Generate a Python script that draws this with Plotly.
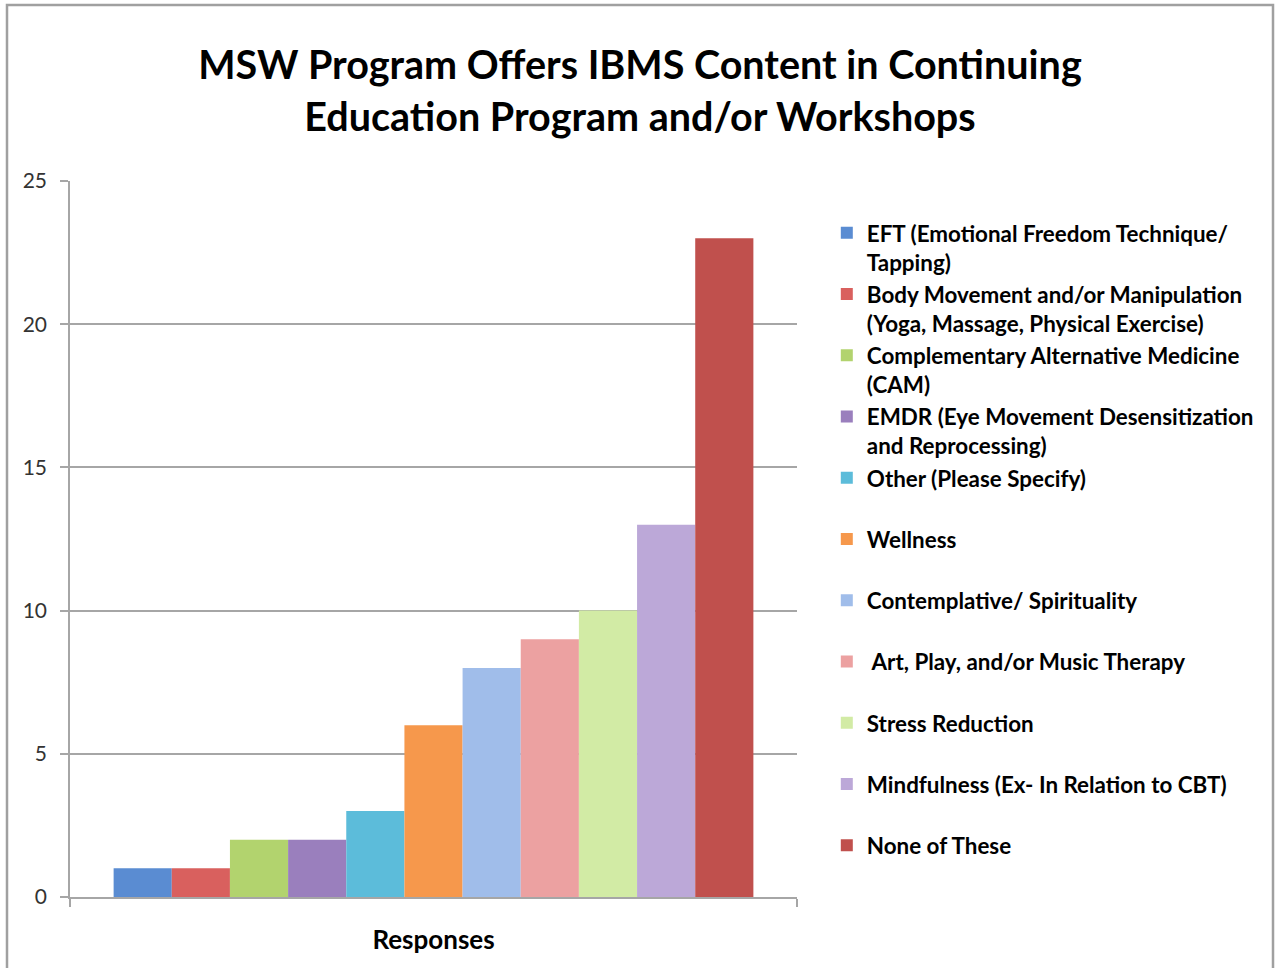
import plotly.graph_objects as go

categories = ["Responses"]
series_names = [
    "EFT (Emotional Freedom Technique/<br>Tapping)",
    "Body Movement and/or Manipulation<br>(Yoga, Massage, Physical Exercise)",
    "Complementary Alternative Medicine<br>(CAM)",
    "EMDR (Eye Movement Desensitization<br>and Reprocessing)",
    "Other (Please Specify)<br> ",
    "Wellness<br> ",
    "Contemplative/ Spirituality<br> ",
    " Art, Play, and/or Music Therapy<br> ",
    "Stress Reduction<br> ",
    "Mindfulness (Ex- In Relation to CBT)<br> ",
    "None of These<br> ",
]
series_values = [1, 1, 2, 2, 3, 6, 8, 9, 10, 13, 23]
colors = ["#5a8cd2", "#d9605e", "#b2d36e", "#9a7fbd", "#5cbcda", "#f6984c",
          "#a0bdea", "#eca1a1", "#d2eba5", "#bca8d8", "#c0504d"]
y_ticks = [0, 5, 10, 15, 20, 25]

fig = go.Figure()
for name, val, col in zip(series_names, series_values, colors):
    fig.add_trace(go.Bar(x=categories, y=[val], name=name,
                         marker=dict(color=col, line=dict(width=0))))

fig.update_layout(
    width=1280, height=968,
    margin=dict(l=70, r=483, t=181, b=71),
    paper_bgcolor="white", plot_bgcolor="white",
    barmode="group", bargap=0.12, bargroupgap=0,
    font=dict(family="Lato", color="#000000"),
    title=dict(text="MSW Program Offers IBMS Content in Continuing<br>Education Program and/or Workshops",
               x=0.5, xanchor="center", y=0.918, yanchor="middle",
               font=dict(family="Lato", size=39.5, weight="bold", color="#000000")),
    legend=dict(x=1.041, xanchor="left", y=0.957, yanchor="top",
                valign="top", traceorder="normal", itemwidth=30,
                font=dict(family="Lato", size=22.4, weight="bold", color="#000000"),
                bgcolor="rgba(0,0,0,0)"),
    showlegend=True,
)
fig.update_yaxes(range=[0, 25], tickvals=y_ticks, showgrid=True,
                 gridcolor="#a6a6a6", gridwidth=1.5,
                 showline=True, linecolor="#a6a6a6", linewidth=1.5,
                 ticks="outside", ticklen=8, tickcolor="#a6a6a6", tickwidth=1.5,
                 ticklabelstandoff=9,
                 tickfont=dict(family="Lato", size=21, color="#333333"),
                 zeroline=False, fixedrange=True)
fig.update_xaxes(showline=True, linecolor="#a6a6a6", linewidth=1.5,
                 ticks="outside", tickson="boundaries", ticklen=8,
                 tickcolor="#a6a6a6", tickwidth=1.5,
                 ticklabelstandoff=19,
                 tickfont=dict(family="Lato", size=26, weight="bold", color="#000000"),
                 fixedrange=True)

# outer frame around the whole chart
fig.add_shape(type="rect", xref="paper", yref="paper",
              x0=(7 - 70) / 727, x1=(1273 - 70) / 727,
              y0=(897 - 990) / 716, y1=(897 - 5) / 716,
              line=dict(color="#a0a0a0", width=2.5), fillcolor="rgba(0,0,0,0)",
              layer="below")

fig.write_html("out.html", config={"displayModeBar": False},
               post_script="document.body.style.margin='0';")
